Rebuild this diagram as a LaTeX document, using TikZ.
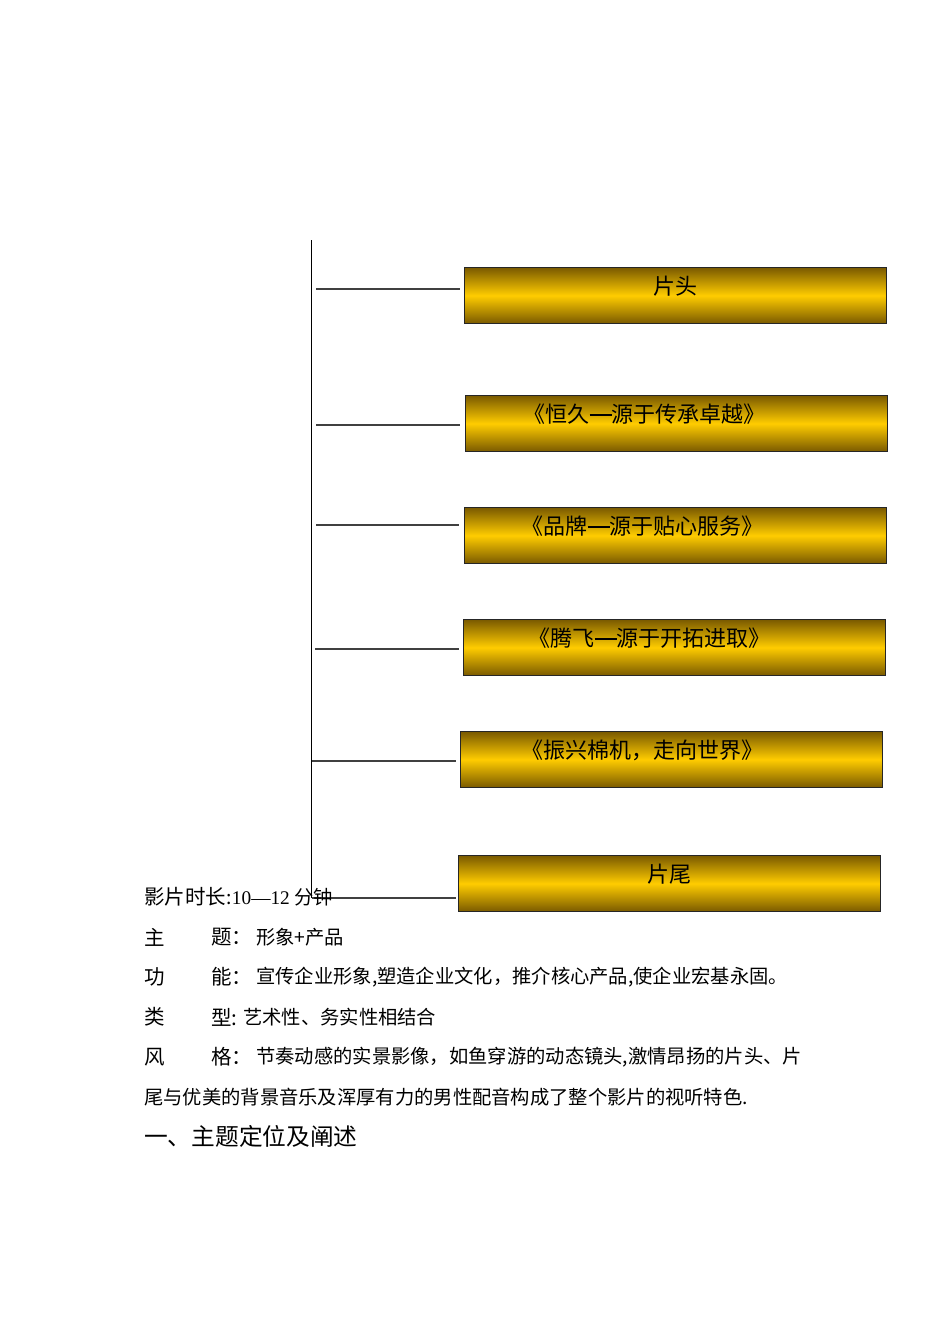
\documentclass[tikz,border=0pt]{standalone}
\usepackage{fontspec}
\newfontfamily\cjk{Noto Sans CJK SC}
\newfontfamily\lat{Liberation Serif}
\newcommand\longdash{\rule[0.3em]{1em}{0.09em}}
\begin{document}
\begin{tikzpicture}[x=1pt,y=-1pt,
  box/.style={draw=black!85, line width=1pt, rectangle, minimum width=422pt, minimum height=56pt, inner sep=0pt, anchor=north west,
    top color=gold1, bottom color=gold1, middle color=gold2, shading angle=0},
  blab/.style={anchor=north, inner sep=0pt, yshift=-9pt, font=\cjk\fontsize{22}{24}\selectfont},
  trunk/.style={draw=black, line width=1pt},
  branch/.style={draw=black!75, line width=1.3pt},
  lbl/.style={anchor=west, inner sep=0pt, font=\cjk\fontsize{20.5}{22}\selectfont},
  txt/.style={anchor=west, inner sep=0pt, font=\cjk\fontsize{19.3}{21}\selectfont},
  head/.style={anchor=west, inner sep=0pt, font=\cjk\fontsize{23.7}{26}\selectfont}
]
\definecolor{gold1}{HTML}{7A5A00}
\definecolor{gold2}{HTML}{FFCC00}
\useasboundingbox (0,0) rectangle (950,1344);
\fill[white] (0,0) rectangle (950,1344);

% boxes
\node[box, label={[blab]north:片头}] (b1) at (464,267) {};
\node[box, label={[blab, xshift=-32pt]north:《恒久\longdash 源于传承卓越》}] (b2) at (465,395) {};
\node[box, label={[blab, xshift=-33pt]north:《品牌\longdash 源于贴心服务》}] (b3) at (464,507) {};
\node[box, label={[blab, xshift=-25pt]north:《腾飞\longdash 源于开拓进取》}] (b4) at (463,619) {};
\node[box, label={[blab, xshift=-29pt]north:《振兴棉机，走向世界》}] (b5) at (460,731) {};
\node[box, label={[blab]north:片尾}] (b6) at (458,855) {};

% trunk
\coordinate (ttop) at (311,240);
\coordinate (tbot) at (311,898);
\draw[trunk] (ttop) -- (tbot);

% branches
\coordinate (s1) at (316,289); \coordinate (e1) at (460,289);
\coordinate (s2) at (316,425); \coordinate (e2) at (460,425);
\coordinate (s3) at (316,525); \coordinate (e3) at (459,525);
\coordinate (s4) at (315,649); \coordinate (e4) at (459,649);
\coordinate (s5) at (312,761); \coordinate (e5) at (456,761);
\coordinate (s6) at (312,898); \coordinate (e6) at (456,898);
\foreach \i in {1,...,6} \draw[branch] (s\i) -- (e\i);

% text lines
\node[lbl] (l1) at (144,897) {影片时长};
\node[txt, anchor=west] (l1b) at (l1.east) {:{\lat 10—12} 分钟};

\node[lbl] (l2a) at (144,937) {主};
\node[lbl] (l2b) at (211,937) {题：};
\node[txt] (l2c) at (256,937) {形象+产品};

\node[lbl] (l3a) at (144,977) {功};
\node[lbl] (l3b) at (211,977) {能：};
\node[txt] (l3c) at (256,977) {宣传企业形象,塑造企业文化，推介核心产品,使企业宏基永固。};

\node[lbl] (l4a) at (144,1017) {类};
\node[lbl] (l4b) at (211,1017) {型:};
\node[txt] (l4c) at (243,1017) {艺术性、务实性相结合};

\node[lbl] (l5a) at (144,1057) {风};
\node[lbl] (l5b) at (211,1057) {格：};
\node[txt] (l5c) at (256,1057) {节奏动感的实景影像，如鱼穿游的动态镜头,激情昂扬的片头、片};

\node[txt] (l6) at (144,1097) {尾与优美的背景音乐及浑厚有力的男性配音构成了整个影片的视听特色.};

\node[head] (h) at (144,1136) {一、主题定位及阐述};
\end{tikzpicture}
\end{document}
